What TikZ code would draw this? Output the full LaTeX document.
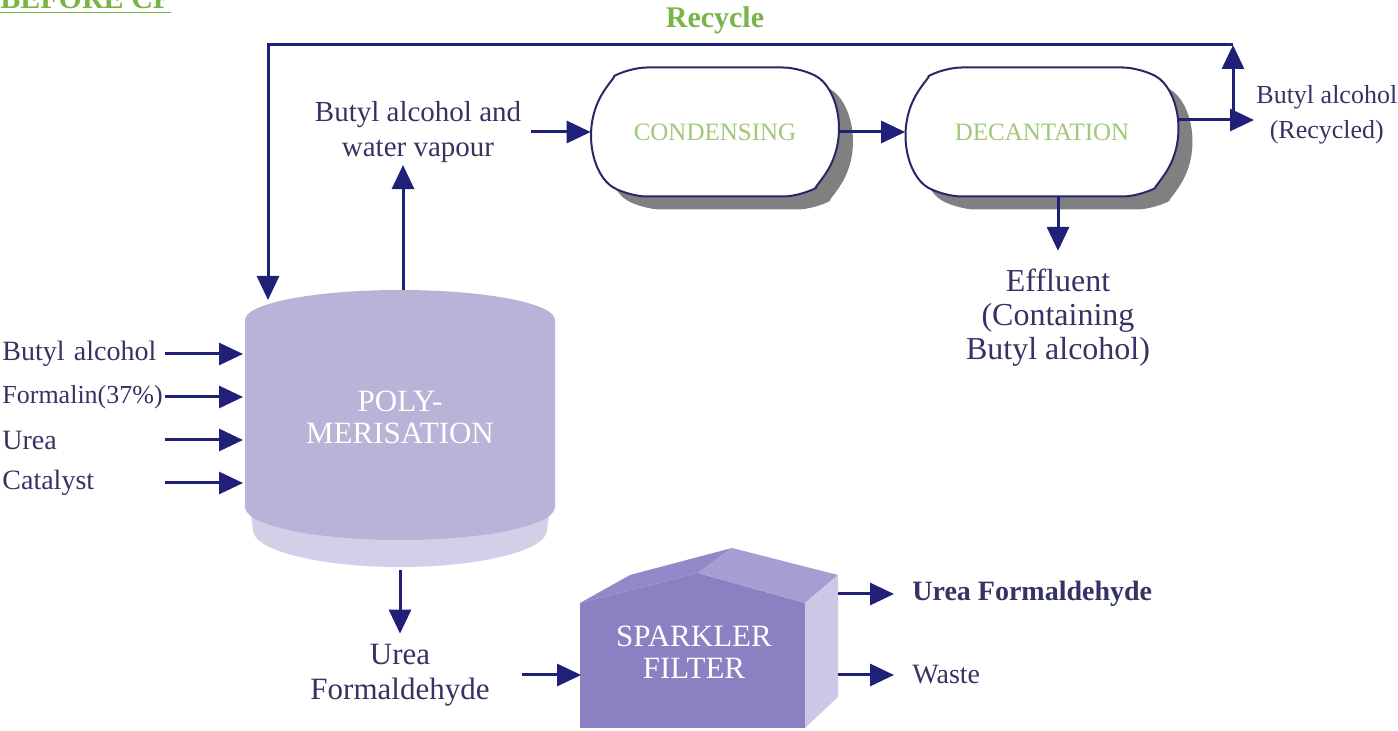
\documentclass[tikz,border=0pt]{standalone}
\usepackage{fontspec}
\setmainfont{Liberation Serif}
\usetikzlibrary{arrows.meta,shapes.misc,shadows,positioning}
\definecolor{ink}{RGB}{52,52,100}
\definecolor{flowblue}{RGB}{32,32,120}
\definecolor{leaf}{RGB}{122,180,72}
\definecolor{paleleaf}{RGB}{160,200,120}
\definecolor{cylbody}{RGB}{186,179,216}
\definecolor{cylbase}{RGB}{212,207,232}
\definecolor{filterfront}{RGB}{137,129,194}
\definecolor{filterroof}{RGB}{146,138,200}
\definecolor{filterlight}{RGB}{166,158,210}
\definecolor{filterside}{RGB}{204,200,230}
\definecolor{frame}{RGB}{40,40,100}
\tikzset{
  flow/.style={draw=flowblue, line width=1.5pt, -{Triangle[length=12pt,width=11pt]}},
  lbl/.style={text=ink, font=\fontsize{14}{17.5}\selectfont, inner sep=1pt, align=center},
  inlbl/.style={lbl, anchor=west, text width=80pt, align=left},
  unit/.style={rounded rectangle, rounded rectangle arc length=120, draw=frame,
    line width=1pt, fill=white, minimum height=64.5pt, text=paleleaf,
    rounded corners=9pt, font=\fontsize{12.5}{15}\selectfont,
    drop shadow={shadow xshift=7pt, shadow yshift=-6.5pt, fill=black!50, opacity=1}},
  vessel/.style={text=white, font=\fontsize{15.5}{16}\selectfont, align=center}
}
\begin{document}
\begin{tikzpicture}[x=0.5pt,y=-0.5pt]
\clip (0,0) rectangle (1398,731);
% headings
\node[anchor=base west, inner sep=0pt, text=leaf, font=\bfseries\fontsize{15}{18}\selectfont] (title) at (0,9) {\underline{BEFORE CP}};
\node[text=leaf, font=\bfseries\fontsize{15}{18}\selectfont] (recycle) at (715,20) {Recycle};

% polymerisation vessel
\fill[cylbase] (249,500) -- (253,530) .. controls (253,550.4) and (318.9,567) .. (400,567)
  .. controls (481.1,567) and (547,550.4) .. (547,530) -- (551,500) -- cycle;
\fill[cylbody] (245,507) -- (245,320) .. controls (245,303.4) and (314.4,290) .. (400,290)
  .. controls (485.6,290) and (555,303.4) .. (555,320) -- (555,507)
  .. controls (555,525.2) and (485.6,540) .. (400,540)
  .. controls (314.4,540) and (245,525.2) .. (245,507) -- cycle;
\node[vessel] (poly) at (400,417) {POLY-\\MERISATION};
\coordinate (polytop) at (403,290);
\coordinate (polybot) at (400,570);
\coordinate (polyin) at (268,300);
\coordinate (polyleft) at (243,420);

% raw materials
\node[inlbl] (inbutyl) at (0,354) {Butyl alcohol};
\node[inlbl, font=\fontsize{13}{16}\selectfont] (informalin) at (0,397) {Formalin(37\%)};
\node[inlbl] (inurea) at (0,440) {Urea};
\node[inlbl] (incat) at (0,483) {Catalyst};
\foreach \n in {inbutyl,informalin,inurea,incat}
  \draw[flow] (\n.east) -- (\n.east -| polyleft);

% vapour line
\node[lbl, font=\fontsize{14.5}{17.5}\selectfont] (vapour) at (418,132) {Butyl alcohol and\\water vapour};
\draw[flow] (polytop) -- (polytop |- vapour.south);
\node[unit, minimum width=130pt] (cond) at (715,132) {CONDENSING};
\node[unit, minimum width=142.5pt] (decant) at (1042,132) {DECANTATION};
\draw[flow, shorten <=4pt] (vapour.east) -- (cond.west);
\draw[flow] (cond.east) -- (decant.west);

\node[lbl, font=\fontsize{16}{17}\selectfont] (effluent) at (1058,318) {Effluent\\(Containing\\Butyl alcohol)};
\draw[flow, shorten >=8pt] (effluent.north |- decant.south) -- (effluent.north);

% recycle
\node[lbl, font=\fontsize{13}{17.5}\selectfont, anchor=west] (recyc) at (1254,115) {Butyl alcohol\\(Recycled)};
\coordinate (split) at (1233,120);
\coordinate (rtop) at (1233,45);
\coordinate (ltop) at (268,45);
\draw[flow] (decant.east |- split) -- (split -| recyc.west);
\draw[flow] (split) -- (rtop);
\draw[flow] (rtop) -- (ltop) -- (polyin);

% product line
\node[lbl, font=\fontsize{15.5}{17.5}\selectfont] (ureaf) at (400,675) {Urea\\Formaldehyde};
\draw[flow, shorten >=4pt] (polybot) -- (ureaf.north);

% sparkler filter
\fill[filterfront] (580,728) -- (580,603) -- (698,573) -- (805,603) -- (805,728) -- cycle;
\fill[filterroof] (580,603) -- (630,575) -- (732,548) -- (698,573) -- cycle;
\fill[filterlight] (698,573) -- (732,548) -- (838,575) -- (805,603) -- cycle;
\fill[filterside] (805,603) -- (838,575) -- (838,697) -- (805,728) -- cycle;
\node[vessel, minimum width=112.5pt, minimum height=62pt] (filter) at (694,652) {SPARKLER\\FILTER};
\coordinate (fside) at (838,640);
\draw[flow, shorten <=15pt] (ureaf.east) -- (ureaf.east -| filter.west);

\node[lbl, font=\bfseries\fontsize{14}{17}\selectfont, anchor=west] (ufprod) at (910,594) {Urea Formaldehyde};
\node[lbl, anchor=west] (waste) at (910,675) {Waste};
\draw[flow, shorten >=8pt] (fside |- ufprod.west) -- (ufprod.west);
\draw[flow, shorten >=8pt] (fside |- waste.west) -- (waste.west);
\end{tikzpicture}
\end{document}
